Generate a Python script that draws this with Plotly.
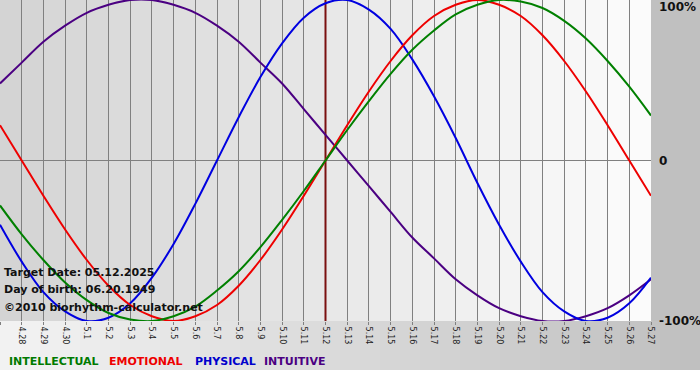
import plotly.graph_objects as go

# ---- data ----
dates = ["4.27", "4.28", "4.29", "4.30", "5.1", "5.2", "5.3", "5.4", "5.5", "5.6",
         "5.7", "5.8", "5.9", "5.10", "5.11", "5.12", "5.13", "5.14", "5.15", "5.16",
         "5.17", "5.18", "5.19", "5.20", "5.21", "5.22", "5.23", "5.24", "5.25", "5.26", "5.27"]
target_date = "5.12"

physical = [-0.40, -0.63, -0.82, -0.94, -1.00, -0.98, -0.89, -0.73, -0.52, -0.27,
            0.00, 0.27, 0.52, 0.73, 0.89, 0.98, 1.00, 0.94, 0.82, 0.63,
            0.40, 0.14, -0.14, -0.40, -0.63, -0.82, -0.94, -1.00, -0.98, -0.89, -0.73]
emotional = [0.22, 0.00, -0.22, -0.43, -0.62, -0.78, -0.90, -0.97, -1.00, -0.97,
             -0.90, -0.78, -0.62, -0.43, -0.22, 0.00, 0.22, 0.43, 0.62, 0.78,
             0.90, 0.97, 1.00, 0.97, 0.90, 0.78, 0.62, 0.43, 0.22, 0.00, -0.22]
intellectual = [-0.28, -0.46, -0.62, -0.76, -0.87, -0.95, -0.99, -1.00, -0.97, -0.91,
                -0.81, -0.69, -0.54, -0.37, -0.19, 0.00, 0.19, 0.37, 0.54, 0.69,
                0.81, 0.91, 0.97, 1.00, 0.99, 0.95, 0.87, 0.76, 0.62, 0.46, 0.28]
intuitive = [0.48, 0.61, 0.74, 0.84, 0.92, 0.97, 1.00, 1.00, 0.97, 0.92,
             0.84, 0.74, 0.61, 0.48, 0.32, 0.16, 0.00, -0.16, -0.32, -0.48,
             -0.61, -0.74, -0.84, -0.92, -0.97, -1.00, -1.00, -0.97, -0.92, -0.84, -0.74]

series = [
    ("INTUITIVE", intuitive, "#4b0082"),
    ("PHYSICAL", physical, "#0000e0"),
    ("EMOTIONAL", emotional, "#ee0000"),
    ("INTELLECTUAL", intellectual, "#008000"),
]
legend_items = [("INTELLECTUAL", "#007a00", 7), ("EMOTIONAL", "#ee0000", 107),
                ("PHYSICAL", "#0000cc", 193), ("INTUITIVE", "#4b0082", 262)]
info_lines = ["Target Date: 05.12.2025", "Day of birth: 06.20.1949",
              "\u00a92010 biorhythm-calculator.net"]
y_labels = [("100%", 1), ("0", 0), ("-100%", -1)]

W, H = 700, 380
ML, MR, MT, MB = 0, 49, 0, 59
PW, PH = W - ML - MR, H - MT - MB


def px(x):
    return (x - ML) / PW


def py(y):
    return (MT + PH - y) / PH


def lerp_gray(a, b, t):
    v = int(round(a + (b - a) * t))
    return f"rgb({v},{v},{v})"


xs = list(range(len(dates)))
fig = go.Figure()

shapes = []
# plot-area background: per-day strips getting lighter to the right
n = len(dates) - 1
for i in range(n):
    shapes.append(dict(type="rect", xref="x", yref="paper", x0=xs[i], x1=xs[i + 1],
                       y0=0, y1=1, line_width=0, layer="below",
                       fillcolor=lerp_gray(212, 251, i / (n - 1))))
# bottom band gradient
steps = 35
for i in range(steps):
    x0 = i * W / steps
    x1 = (i + 1) * W / steps
    shapes.append(dict(type="rect", xref="paper", yref="paper", x0=px(x0), x1=px(x1 + 1),
                       y0=py(370), y1=py(PH), line_width=0, layer="below",
                       fillcolor=lerp_gray(242, 192, i / (steps - 1))))
shapes.append(dict(type="rect", xref="paper", yref="paper", x0=px(0), x1=px(W),
                   y0=py(H), y1=py(370), line_width=0, layer="below", fillcolor="#ffffff"))
fig.update_layout(shapes=shapes)

# target-date line
ti = dates.index(target_date)
fig.add_trace(go.Scatter(x=[xs[ti], xs[ti]], y=[-1, 1], mode="lines",
                         line=dict(color="#7a1010", width=2), hoverinfo="skip",
                         showlegend=False))

for name, vals, col in series:
    fig.add_trace(go.Scatter(x=xs, y=vals, mode="lines", name=name,
                             line=dict(color=col, width=2, shape="spline", smoothing=1.0),
                             showlegend=False))

annotations = []
for txt, yv in y_labels:
    ypix = MT + PH * (1 - yv) / 2
    ypix = min(max(ypix, 7), 322)
    annotations.append(dict(text=txt, xref="paper", yref="paper", x=px(657), y=py(ypix),
                            xanchor="left", yanchor="middle", showarrow=False,
                            font=dict(family="DejaVu Sans", size=12, color="#111111",
                                      weight="bold")))
for i, line in enumerate(info_lines):
    annotations.append(dict(text=line, xref="paper", yref="paper", x=px(2),
                            y=py(272 + 17.5 * i), xanchor="left", yanchor="middle",
                            showarrow=False,
                            font=dict(family="DejaVu Sans", size=11, color="#111111",
                                      weight="bold")))
for txt, col, xp in legend_items:
    annotations.append(dict(text=txt, xref="paper", yref="paper", x=px(xp), y=py(361),
                            xanchor="left", yanchor="middle", showarrow=False,
                            font=dict(family="DejaVu Sans", size=11, color=col,
                                      weight="bold")))

fig.update_layout(
    width=W, height=H,
    margin=dict(l=ML, r=MR, t=MT, b=MB, pad=0, autoexpand=False),
    paper_bgcolor="#c0c0c0",
    plot_bgcolor="rgba(0,0,0,0)",
    showlegend=False,
    annotations=annotations,
    xaxis=dict(range=[0, len(dates) - 1], tickmode="array", tickvals=xs, ticktext=dates,
               tickangle=90, tickfont=dict(family="DejaVu Sans", size=8, color="#222222"),
               showgrid=True, gridcolor="#808080", gridwidth=1,
               ticks="outside", ticklen=3, tickcolor="#808080", automargin=False,
               zeroline=False, showline=False, fixedrange=True),
    yaxis=dict(range=[-1, 1], showticklabels=False, showgrid=False, automargin=False,
               zeroline=True, zerolinecolor="#808080", zerolinewidth=1,
               showline=False, fixedrange=True),
)

fig.write_html("out.html", config={"displayModeBar": False},
               post_script="document.body.style.margin='0';document.body.style.overflow='hidden';")
